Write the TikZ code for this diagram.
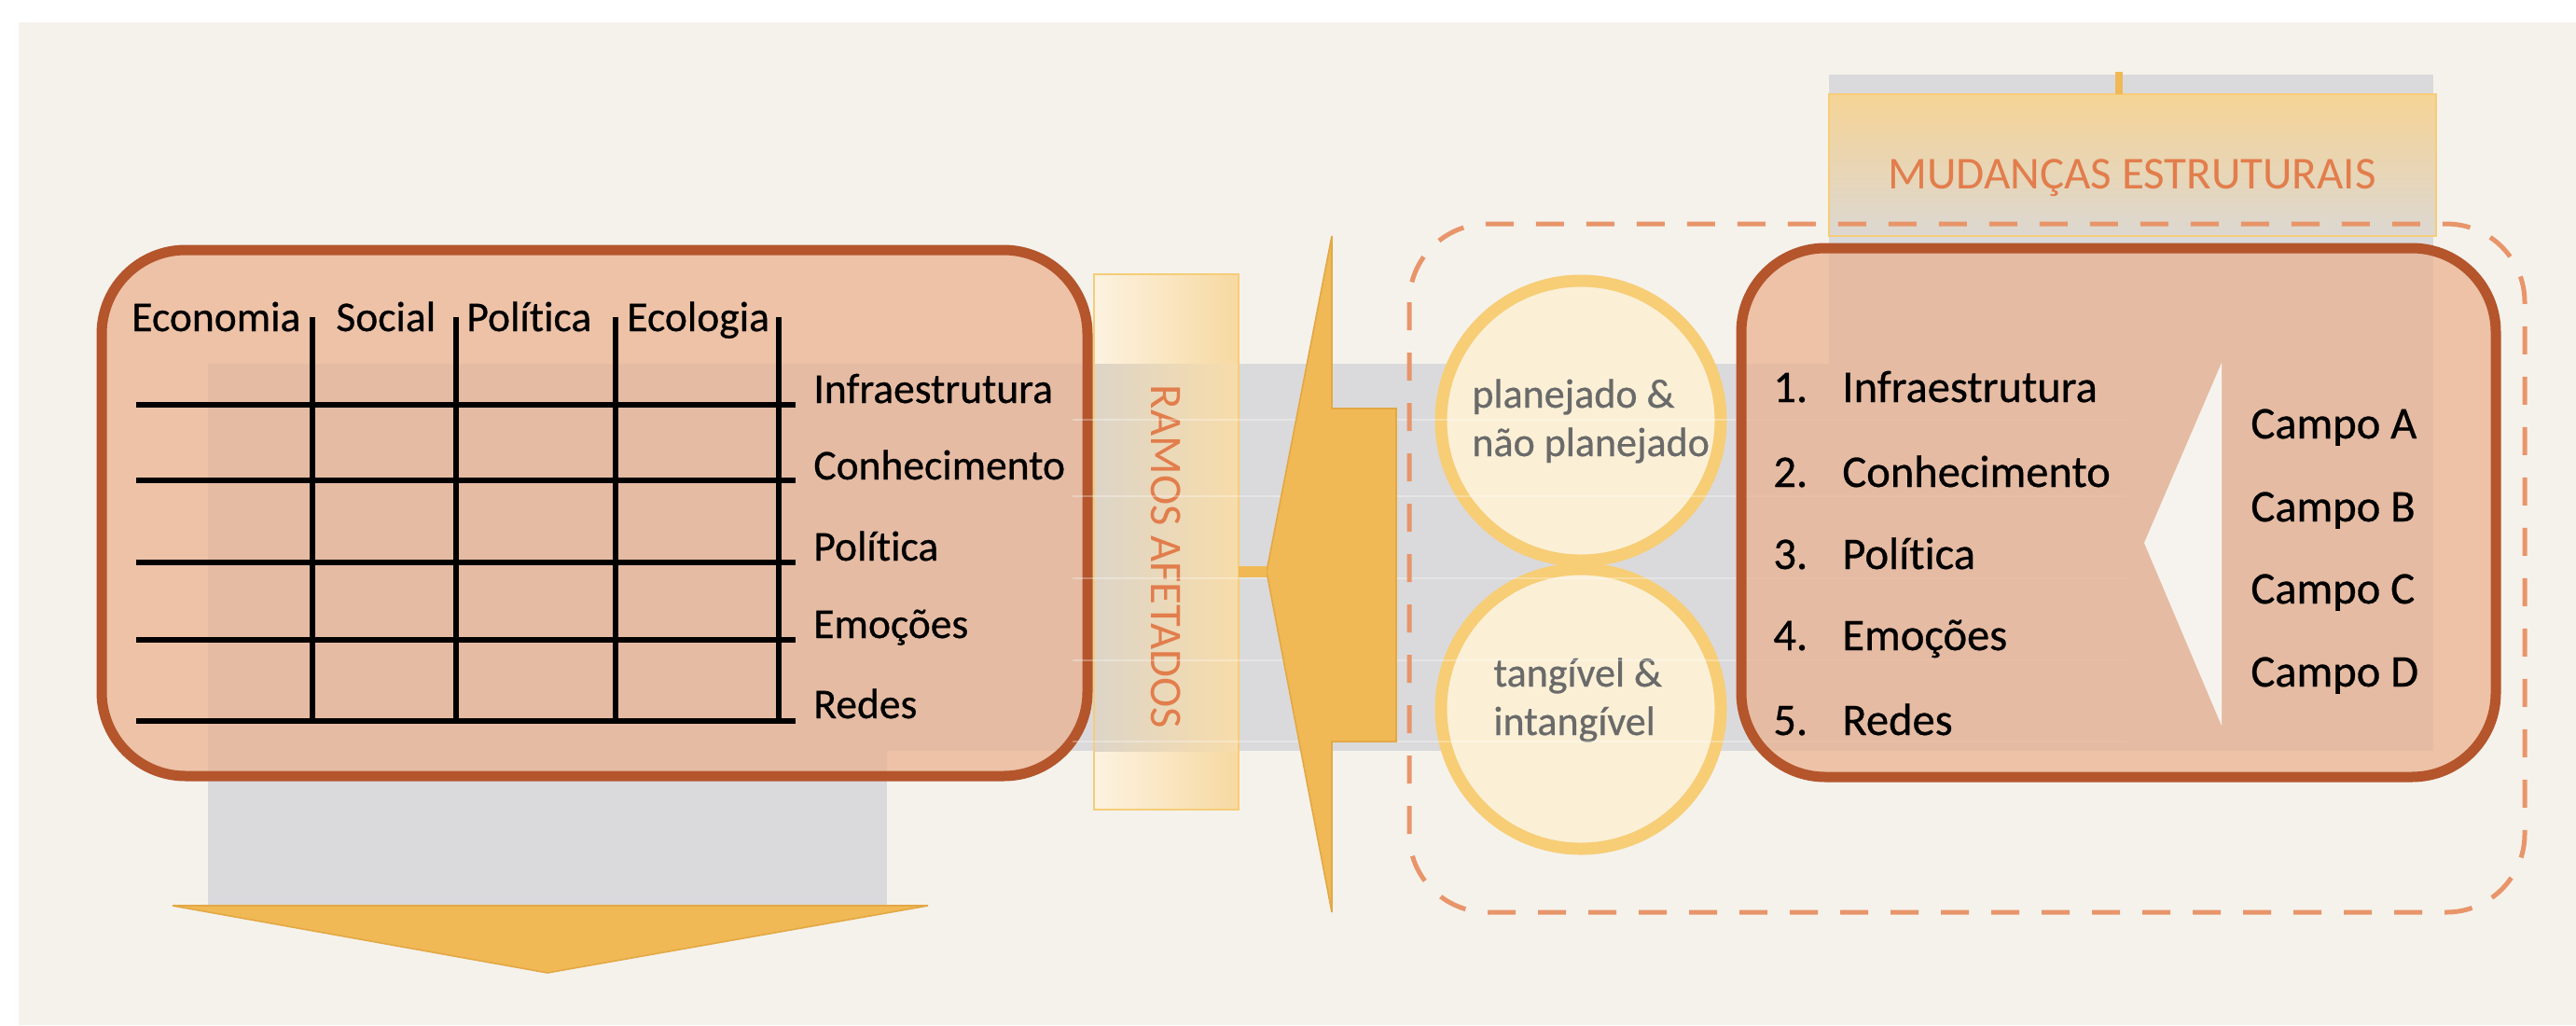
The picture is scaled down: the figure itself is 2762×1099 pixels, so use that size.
\documentclass[tikz,border=0pt]{standalone}
\usepackage{fontspec}
\setmainfont{Carlito}[Ligatures=NoCommon]
\newfontfamily\thickfont{Carlito}[FakeBold=0.6,Ligatures=NoCommon]
\usetikzlibrary{calc}

\definecolor{bgbeige}{HTML}{F5F2EC}
\definecolor{bandgrey}{HTML}{DADADC}
\definecolor{gold}{HTML}{F0B955}
\definecolor{golddark}{HTML}{E3A844}
\definecolor{boxfill}{HTML}{EAAF8B}
\definecolor{boxedge}{HTML}{B4552C}
\definecolor{ringgold}{HTML}{F7CD76}
\definecolor{ringfill}{HTML}{FBF0D6}
\definecolor{dashorange}{HTML}{E8956A}
\definecolor{labelorange}{HTML}{E27D4C}
\definecolor{circletext}{HTML}{6A6A6A}
\definecolor{paleedge}{HTML}{F6CD77}
\definecolor{hole}{HTML}{F6F3EE}

\begin{document}
\begin{tikzpicture}[x=0.5pt,y=-0.5pt,
  gridline/.style={line width=2.6pt,black},
  gridtxt/.style={inner sep=0pt,font={\thickfont\fontsize{22.75}{27}\selectfont},text=black},
  listtxt/.style={inner sep=0pt,font={\thickfont\fontsize{24.25}{29}\selectfont},text=black},
  circtxt/.style={inner sep=0pt,font={\thickfont\fontsize{22}{26}\selectfont},text=circletext},
  headtxt/.style={inner sep=0pt,font={\fontsize{24.3}{29}\selectfont},text=labelorange},
  bigbox/.style={rounded corners=45pt,line width=5.5pt,draw=boxedge,fill=boxfill,fill opacity=0.7,draw opacity=1},
  ring/.style={line width=6.5pt,draw=ringgold,fill=ringfill},
  goldshape/.style={fill=gold,draw=golddark,line width=0.8pt,line join=miter},
  conn/.style={draw=gold,line width=6pt},
  faint/.style={draw=white,opacity=0.3,line width=1.2pt},
  dashbox/.style={draw=dashorange,line width=2.5pt,rounded corners=42pt,dash pattern=on 15pt off 12pt}]

\useasboundingbox (0,0) rectangle (2762,1099);
\fill[white] (0,0) rectangle (2762,1099);
\fill[bgbeige] (20,24) rectangle (2762,1099);

% grey bands behind the diagram
\fill[bandgrey] (223,390) rectangle (2609,805);
\fill[bandgrey] (223,390) rectangle (951,971);
\fill[bandgrey] (1961,80) rectangle (2609,805);

% downward arrow under the matrix
\fill[goldshape] (185,971) -- (995,971) -- (587,1043) -- cycle;

% left box: matrix of areas and branches
\path[bigbox] (109,268) rectangle (1166,832);
\foreach \yy in {434,515,603,686,773}
  \draw[gridline] (146,\yy) -- (853,\yy);
\foreach \xx in {335,489,660,835}
  \draw[gridline] (\xx,340) -- (\xx,773);
\node[gridtxt,anchor=base west] (colEco) at (141,355) {Economia};
\node[gridtxt,anchor=base west] (colSoc) at (360,355) {Social};
\node[gridtxt,anchor=base west] (colPol) at (500,355) {Política};
\node[gridtxt,anchor=base west] (colEcl) at (672,355) {Ecologia};
\node[gridtxt,anchor=base west] (rowInf) at (872,432) {Infraestrutura};
\node[gridtxt,anchor=base west] (rowCon) at (872,514) {Conhecimento};
\node[gridtxt,anchor=base west] (rowPol) at (872,601) {Política};
\node[gridtxt,anchor=base west] (rowEmo) at (872,684) {Emoções};
\node[gridtxt,anchor=base west] (rowRed) at (872,770) {Redes};

% affected branches panel
\begin{scope}
  \clip (1173,294) rectangle (1328,390) (1173,805) rectangle (1328,868);
  \shade[left color=gold!18!white,middle color=gold!42!white,right color=gold!55!white] (1173,294) rectangle (1328,868);
\end{scope}
\begin{scope}
  \clip (1173,390) rectangle (1328,805);
  \shade[left color=bandgrey!85!gold,middle color=gold!35!bandgrey,right color=gold!50!white] (1173,390) rectangle (1328,805);
\end{scope}
\draw[paleedge,line width=1.2pt] (1173,294) rectangle (1328,868);
\node[headtxt,rotate=-90] (ramos) at (1250,597) {RAMOS AFETADOS};

% structural changes header
\shade[top color=gold!62!white,middle color=gold!45!white,bottom color=bandgrey!92!gold] (1961,101) rectangle (2612,253);
\draw[paleedge,line width=1.2pt] (1961,101) rectangle (2612,253);
\node[headtxt,anchor=base,font={\fontsize{24.5}{29}\selectfont}] (mud) at (2286,202) {MUDANÇAS ESTRUTURAIS};
\coordinate (mudN) at (2272,101);
\coordinate (mudUp) at (2272,77);
\draw[draw=gold,line width=4pt] (mudN) -- (mudUp);

% planned / tangible circles
\path[ring] (1695,451) circle[radius=150];
\path[ring] (1695,760) circle[radius=150];
\node[circtxt,anchor=base west] (cA1) at (1578,437) {planejado \&};
\node[circtxt,anchor=base west] (cA2) at (1578,489) {não planejado};
\node[circtxt,anchor=base west] (cB1) at (1601,736) {tangível \&};
\node[circtxt,anchor=base west] (cB2) at (1601,788) {intangível};

% faint row separators across the band
\foreach \yy in {450,532,620,708,795}
  \draw[faint] (1150,\yy) -- (2280,\yy);

% large arrow pointing left
\coordinate (tip) at (1358,613);
\coordinate (ramosE) at (1328,613);
\fill[goldshape] (tip) -- (1428,253) -- (1428,438) -- (1497,438) -- (1497,795)
  -- (1428,795) -- (1428,978) -- cycle;
\draw[conn] (ramosE) -- (tip);

% right box: numbered list and fields
\path[bigbox] (1867,266) rectangle (2676,833);
\fill[hole] (2299,582) -- (2382,389) -- (2382,778) -- cycle;
\node[listtxt,anchor=base west] (n1) at (1901,431) {1.};
\node[listtxt,anchor=base west] (n2) at (1901,522) {2.};
\node[listtxt,anchor=base west] (n3) at (1901,610) {3.};
\node[listtxt,anchor=base west] (n4) at (1901,697) {4.};
\node[listtxt,anchor=base west] (n5) at (1901,788) {5.};
\node[listtxt,anchor=base west] (i1) at (1975,431) {Infraestrutura};
\node[listtxt,anchor=base west] (i2) at (1975,522) {Conhecimento};
\node[listtxt,anchor=base west] (i3) at (1975,610) {Política};
\node[listtxt,anchor=base west] (i4) at (1975,697) {Emoções};
\node[listtxt,anchor=base west] (i5) at (1975,788) {Redes};
\node[listtxt,anchor=base west] (fA) at (2413,470) {Campo A};
\node[listtxt,anchor=base west] (fB) at (2413,559) {Campo B};
\node[listtxt,anchor=base west] (fC) at (2413,647) {Campo C};
\node[listtxt,anchor=base west] (fD) at (2413,736) {Campo D};

% dashed frame around circles and right box
\draw[dashbox] (1511,240) rectangle (2707,978);
\end{tikzpicture}
\end{document}
